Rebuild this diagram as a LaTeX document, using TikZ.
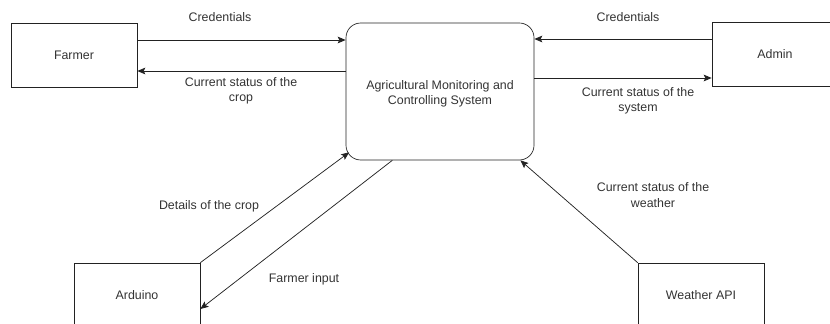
\documentclass[tikz,border=0pt]{standalone}
\usepackage{fontspec}
\setmainfont{Liberation Sans}
\usetikzlibrary{arrows.meta}
\definecolor{txtgray}{HTML}{333333}
\definecolor{linegray}{HTML}{222222}
\begin{document}
\begin{tikzpicture}[x=0.75pt,y=-0.75pt,
    every node/.style={anchor=center,font=\fontsize{9.3pt}{11.5pt}\selectfont,text=txtgray},
    entity/.style={draw=linegray,line width=0.5pt,minimum width=94.5pt,minimum height=48pt,inner sep=0pt},
    flow/.style={draw=linegray,line width=0.55pt,-{Stealth[length=6pt,width=5pt,inset=1.2pt]}},
    lbl/.style={align=center}]
        \useasboundingbox (0,0) rectangle (830,324);
        \clip (0,0) rectangle (830,324);

        % Entities and system
        \node[entity] (farmer) at (74,55) {Farmer};
        \node[entity] (admin) at (775,54.5) {Admin};
        \node[entity,minimum width=141pt,minimum height=102.75pt,rounded corners=11pt] (sys) at (440,91.5) {};
        \node[lbl] (sysname) at (440,94) {Agricultural Monitoring and\\Controlling System};
        \node[entity] (arduino) at (137,295) {Arduino};
        \node[entity] (weather) at (701,295) {Weather API};

        % Flows
        \draw[flow] (farmer.east |- 0,40) -- (sys.west |- 0,40);
        \draw[flow] (sys.west |- 0,71) -- (farmer.east |- 0,71);
        \draw[flow] (admin.west |- 0,39) -- (sys.east |- 0,39);
        \draw[flow] (sys.east |- 0,78) -- (admin.west |- 0,78);
        \draw[flow] (arduino.north east) -- ([shift={(3.5,-8)}]sys.south west);
        \draw[flow] ([xshift=35pt]sys.south west) -- (arduino.east |- 0,309);
        \draw[flow] (weather.north west) -- ([xshift=-10.5pt]sys.south east);

        % Flow labels
        \node (credl) at (220,17) {Credentials};
        \node[lbl] (cropst) at (241,91) {Current status of the\\crop};
        \node (credr) at (628,17) {Credentials};
        \node[lbl] (sysst) at (638,101) {Current status of the\\system};
        \node (details) at (209,206) {Details of the crop};
        \node (finput) at (304,279) {Farmer input};
        \node[lbl] (weatherst) at (653,195) {Current status of the\\weather};
    \end{tikzpicture}
\end{document}
